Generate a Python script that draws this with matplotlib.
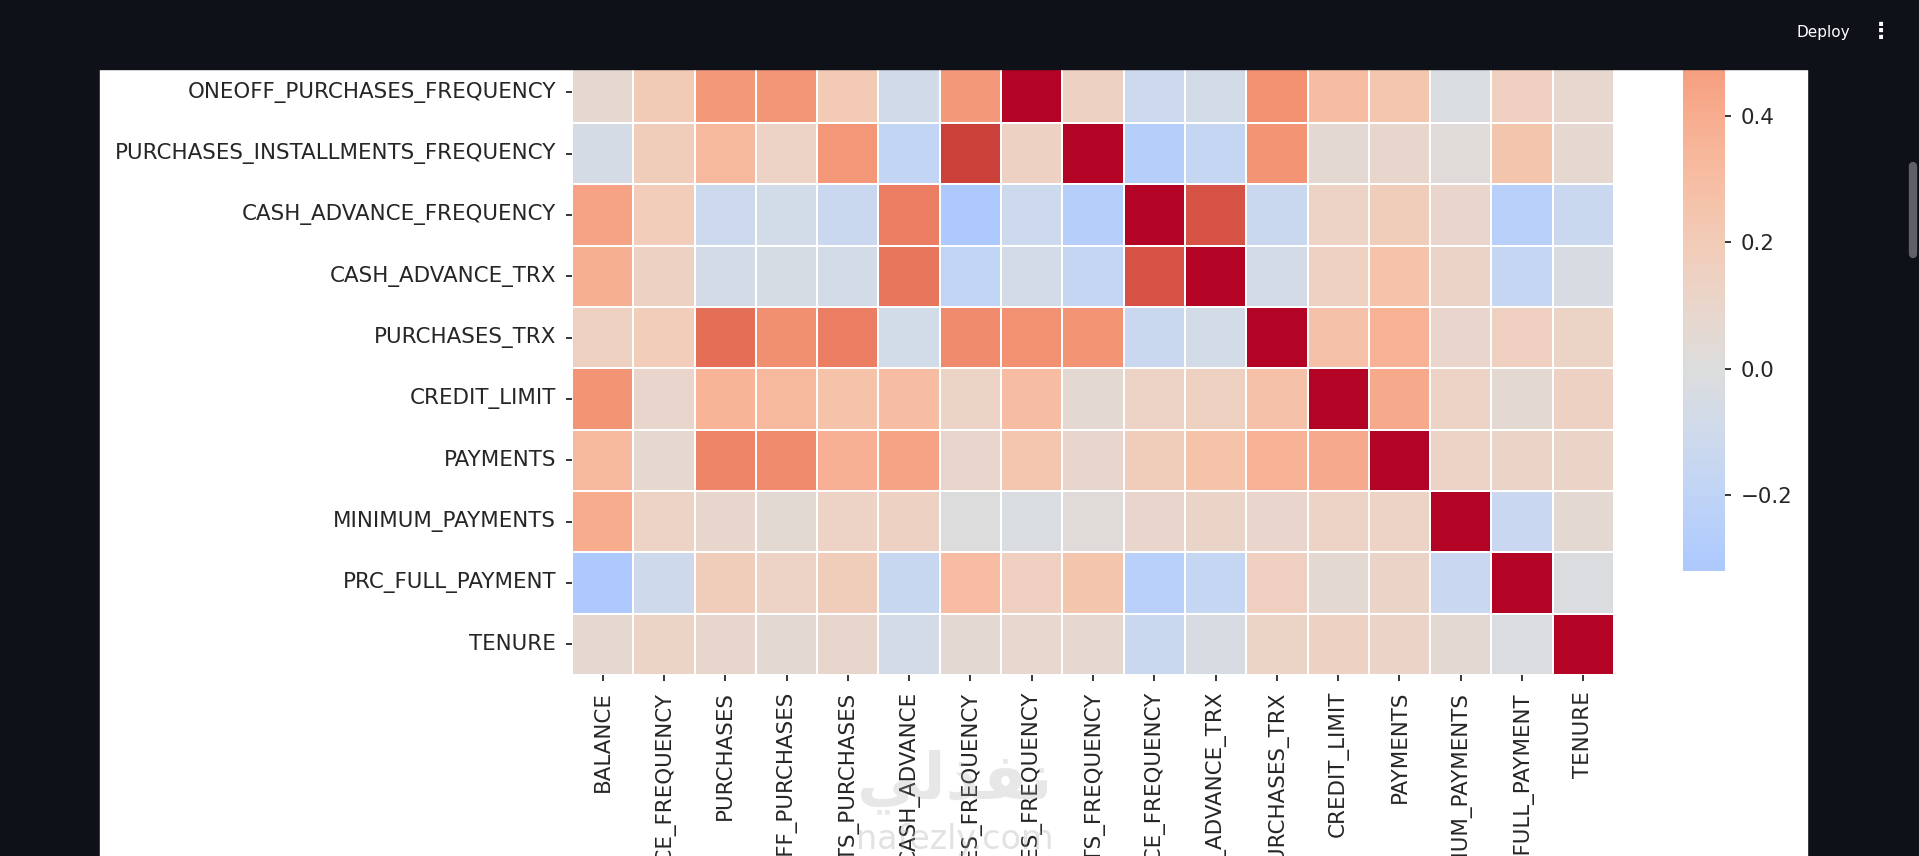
"""Correlation heatmap of the credit card features, as seen in a scrolled Streamlit page."""

import matplotlib
matplotlib.use("Agg")
import matplotlib.pyplot as plt
from matplotlib.patches import Rectangle
from matplotlib.lines import Line2D
import numpy as np
import pandas as pd
import seaborn as sns

columns = [
    "BALANCE", "BALANCE_FREQUENCY", "PURCHASES", "ONEOFF_PURCHASES",
    "INSTALLMENTS_PURCHASES", "CASH_ADVANCE", "PURCHASES_FREQUENCY",
    "ONEOFF_PURCHASES_FREQUENCY", "PURCHASES_INSTALLMENTS_FREQUENCY",
    "CASH_ADVANCE_FREQUENCY", "CASH_ADVANCE_TRX", "PURCHASES_TRX",
    "CREDIT_LIMIT", "PAYMENTS", "MINIMUM_PAYMENTS", "PRC_FULL_PAYMENT", "TENURE",
]

# one row of the correlation matrix per feature (same order as columns)
balance = [1.00, 0.32, 0.18, 0.16, 0.13, 0.50, -0.08, 0.07, -0.06, 0.45, 0.39, 0.15, 0.53, 0.32, 0.40, -0.32, 0.07]
balance_frequency = [0.32, 1.00, 0.13, 0.10, 0.12, 0.10, 0.23, 0.20, 0.18, 0.19, 0.14, 0.19, 0.10, 0.07, 0.13, -0.10, 0.12]
purchases = [0.18, 0.13, 1.00, 0.92, 0.68, -0.05, 0.39, 0.50, 0.32, -0.12, -0.07, 0.69, 0.36, 0.60, 0.09, 0.18, 0.09]
oneoff_purchases = [0.16, 0.10, 0.92, 1.00, 0.33, -0.03, 0.26, 0.52, 0.13, -0.08, -0.05, 0.55, 0.32, 0.57, 0.05, 0.13, 0.06]
installments_purchases = [0.13, 0.12, 0.68, 0.33, 1.00, -0.06, 0.44, 0.21, 0.51, -0.13, -0.07, 0.63, 0.26, 0.38, 0.13, 0.18, 0.09]
cash_advance = [0.50, 0.10, -0.05, -0.03, -0.06, 1.00, -0.22, -0.09, -0.18, 0.63, 0.66, -0.08, 0.30, 0.45, 0.14, -0.15, -0.07]
purchases_frequency = [-0.08, 0.23, 0.39, 0.26, 0.44, -0.22, 1.00, 0.50, 0.86, -0.31, -0.20, 0.57, 0.12, 0.10, 0.00, 0.31, 0.06]
oneoff_purchases_frequency = [0.07, 0.20, 0.50, 0.52, 0.21, -0.09, 0.50, 1.00, 0.14, -0.11, -0.07, 0.54, 0.30, 0.24, -0.03, 0.16, 0.08]
purchases_installments_frequency = [-0.06, 0.18, 0.32, 0.13, 0.51, -0.18, 0.86, 0.14, 1.00, -0.26, -0.17, 0.53, 0.06, 0.09, 0.03, 0.25, 0.07]
cash_advance_frequency = [0.45, 0.19, -0.12, -0.08, -0.13, 0.63, -0.31, -0.11, -0.26, 1.00, 0.80, -0.13, 0.13, 0.18, 0.10, -0.25, -0.13]
cash_advance_trx = [0.39, 0.14, -0.07, -0.05, -0.07, 0.66, -0.20, -0.07, -0.17, 0.80, 1.00, -0.07, 0.15, 0.26, 0.11, -0.17, -0.04]
purchases_trx = [0.15, 0.19, 0.69, 0.55, 0.63, -0.08, 0.57, 0.54, 0.53, -0.13, -0.07, 1.00, 0.27, 0.37, 0.10, 0.16, 0.12]
credit_limit = [0.53, 0.10, 0.36, 0.32, 0.26, 0.30, 0.12, 0.30, 0.06, 0.13, 0.15, 0.27, 1.00, 0.42, 0.13, 0.06, 0.14]
payments = [0.32, 0.07, 0.60, 0.57, 0.38, 0.45, 0.10, 0.24, 0.09, 0.18, 0.26, 0.37, 0.42, 1.00, 0.13, 0.11, 0.11]
minimum_payments = [0.40, 0.13, 0.09, 0.05, 0.13, 0.14, 0.00, -0.03, 0.03, 0.10, 0.11, 0.10, 0.13, 0.13, 1.00, -0.14, 0.06]
prc_full_payment = [-0.32, -0.10, 0.18, 0.13, 0.18, -0.15, 0.31, 0.16, 0.25, -0.25, -0.17, 0.16, 0.06, 0.11, -0.14, 1.00, -0.02]
tenure = [0.07, 0.12, 0.09, 0.06, 0.09, -0.07, 0.06, 0.08, 0.07, -0.13, -0.04, 0.12, 0.14, 0.11, 0.06, -0.02, 1.00]

corr = pd.DataFrame(
    [balance, balance_frequency, purchases, oneoff_purchases, installments_purchases,
     cash_advance, purchases_frequency, oneoff_purchases_frequency,
     purchases_installments_frequency, cash_advance_frequency, cash_advance_trx,
     purchases_trx, credit_limit, payments, minimum_payments, prc_full_payment, tenure],
    index=columns, columns=columns,
)

W, H = 1919, 856
BG = "#0e1117"
TXT = "#262626"


def fx(px):
    return px / W


def fy(py):
    # pixel measured from the top of the image
    return 1 - py / H


fig = plt.figure(figsize=(W / 100, H / 100), dpi=100, facecolor=BG)

# white page area of the app
fig.add_artist(Rectangle((fx(100), 0), fx(1807) - fx(100), fy(69),
                         transform=fig.transFigure, color="white", zorder=-1))

# heatmap and colorbar extend above the visible part (page is scrolled)
ax = fig.add_axes([fx(572), fy(675), fx(1614) - fx(572), (675 + 368) / H])
cax = fig.add_axes([fx(1683), fy(571), fx(1725) - fx(1683), (571 + 264) / H])

sns.heatmap(corr, ax=ax, cbar_ax=cax, cmap="coolwarm", center=0,
            linewidths=1.2, linecolor="white",
            xticklabels=columns, yticklabels=columns)

ax.tick_params(axis="both", labelsize=15.4, length=4.5, width=1.3, pad=7,
               color=TXT, labelcolor=TXT)
for lbl in ax.get_xticklabels():
    lbl.set_rotation(90)
for lbl in ax.get_yticklabels():
    lbl.set_rotation(0)
cax.tick_params(labelsize=15.4, length=4.5, width=1.3, pad=7,
                color=TXT, labelcolor=TXT)

# dark header band of the app covers the scrolled part
fig.add_artist(Rectangle((0, fy(69)), 1, 69 / H, transform=fig.transFigure,
                         color=BG, zorder=10))
fig.text(fx(1796), fy(32), "Deploy", color="white", fontsize=11,
         va="center", ha="left", zorder=11)
fig.text(fx(1881), fy(32), "\u22ee", color="white", fontsize=16,
         fontweight="bold", va="center", ha="center", zorder=11)

# scrollbar
fig.add_artist(Line2D([fx(1913), fx(1913)], [fy(166), fy(254)], lw=6,
                      color="#5f6166", solid_capstyle="round", zorder=11))

# site watermark
fig.text(fx(955), fy(782), "\ufef2\ufedf\ufeac\ufed4\ufee7", fontsize=46,
         fontweight="bold", color="#a0a0a0", alpha=0.25, ha="center",
         va="center", zorder=12)
fig.text(fx(955), fy(840), "nafezly.com", fontsize=24, color="#a0a0a0",
         alpha=0.3, ha="center", va="center", zorder=12)

fig.savefig("out.png", dpi=100, facecolor=fig.get_facecolor())
